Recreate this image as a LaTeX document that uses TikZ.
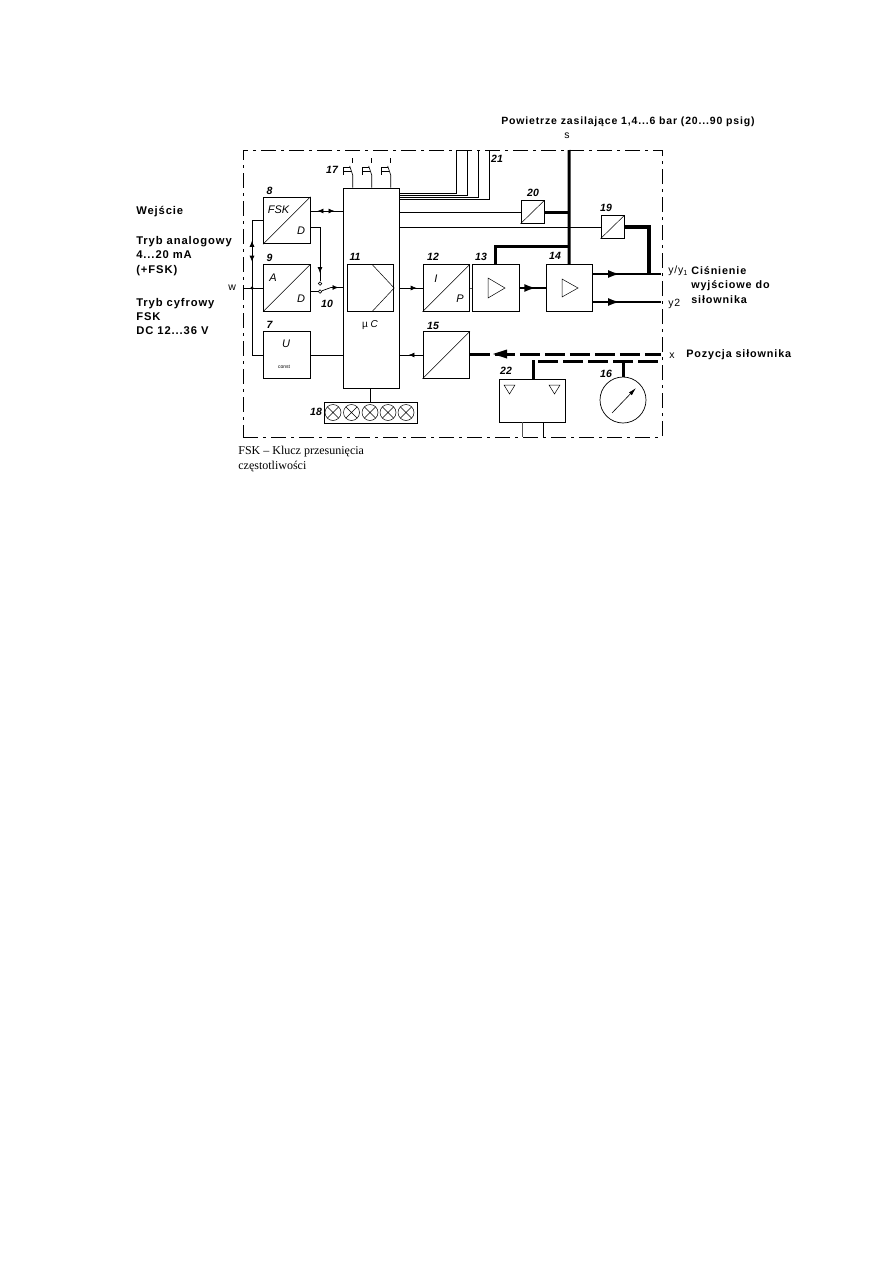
\documentclass[tikz,border=0pt]{standalone}
\usepackage{fontspec}
\setmainfont{Liberation Sans}
\newfontfamily\noteserif{Liberation Serif}
\newfontfamily\opisfont[LetterSpace=8]{Liberation Sans}
\usepackage{tikz}
\usetikzlibrary{arrows.meta,calc,decorations.markings}
\definecolor{LineGray}{HTML}{555555}
\tikzset{
  blok/.style={draw, line width=0.8pt, minimum width=46.5pt, minimum height=46.5pt, inner sep=0pt},
  sensbox/.style={draw, line width=0.8pt, minimum width=23pt, minimum height=22.5pt, inner sep=0pt},
  nr/.style={font=\fontsize{10.5}{10.5}\selectfont\bfseries\itshape, inner sep=0pt},
  sym/.style={font=\fontsize{11}{11}\selectfont\itshape, inner sep=0pt},
  opis/.style={font=\opisfont\fontsize{10.8}{14.2}\selectfont\bfseries, inner sep=0pt, anchor=west, align=left},
  opisleft/.style={opis, font=\opisfont\fontsize{11.2}{14.2}\selectfont\bfseries},
  znak/.style={font=\opisfont\fontsize{10.5}{10.5}\selectfont, inner sep=0pt, anchor=west},
  air/.style={line width=3pt},
  posline/.style={line width=3pt, dash pattern=on 20pt off 5pt},
  tipat/.style={postaction={decorate, decoration={markings,
    mark=at position #1 with {\arrow{Latex[length=6pt,width=5pt]}}}}},
  tiprev/.style={postaction={decorate, decoration={markings,
    mark=at position #1 with {\arrowreversed{Latex[length=6pt,width=5pt]}}}}},
  tipbig/.style={postaction={decorate, decoration={markings,
    mark=at position #1 with {\arrow{Latex[length=12pt,width=8pt]}}}}}
}
\begin{document}
\begin{tikzpicture}[x=1pt, y=-1pt, line width=0.7pt]
  \useasboundingbox (0,0) rectangle (893,1263);

  % frame of the positioner
  \node[draw, line width=0.7pt, dash pattern=on 15pt off 5pt on 3pt off 5pt,
        minimum width=419pt, minimum height=287pt, inner sep=0pt] (frame) at (452.5,293.5) {};

  % blocks
  \node[blok] (fsk) at (286.7,220.5) {};
  \node[blok] (ad) at (286.7,288) {};
  \node[blok] (zas) at (286.7,355) {};
  \node[draw, line width=0.8pt, minimum width=56.5pt, minimum height=200pt, inner sep=0pt] (uc) at (371.2,288) {};
  \node[blok] (proc) at (370.5,288) {};
  \node[blok] (ip) at (446.2,288) {};
  \node[blok] (pre) at (495.7,288) {};
  \node[blok] (amp) at (569.2,288) {};
  \node[blok] (adc) at (446.2,355) {};
  \node[sensbox] (ps) at (532.5,212) {};
  \node[sensbox] (py) at (612.5,227) {};
  \node[draw, line width=0.8pt, minimum width=66pt, minimum height=43pt, inner sep=0pt] (opt) at (532.5,400.5) {};
  \node[draw, circle, line width=0.7pt, minimum size=46pt, inner sep=0pt] (gauge) at (623,400) {};
  \node[draw, line width=0.8pt, minimum width=93pt, minimum height=21pt, inner sep=0pt] (lamps) at (370.5,412.5) {};

  % diagonals
  \foreach \b in {fsk,ad,ip,adc,ps,py}
    \draw[line width=0.5pt] (\b.south west) -- (\b.north east);
  \draw[line width=0.5pt] ($(proc.north)+(1.5,0)$) -- (proc.east) -- ($(proc.south)+(1.5,0)$);

  % signs inside the blocks
  \draw[line width=0.5pt] (488,278) -- (488,298) -- (505,288) -- cycle;
  \draw[line width=0.5pt] (562,279) -- (562,297) -- (578,288) -- cycle;
  \draw[line width=0.5pt] (504,385) -- (515,385) -- (509.5,394) -- cycle;
  \draw[line width=0.5pt] (549,385) -- (560,385) -- (554.5,394) -- cycle;
  \foreach \x in {333,351.5,370,388,406}{
    \draw[line width=0.5pt] (\x,412.5) circle (8);
    \draw[line width=0.5pt] (\x-5.6,406.9) -- (\x+5.6,418.1) (\x-5.6,418.1) -- (\x+5.6,406.9);
  }
  \draw[-{Latex[length=8pt,width=4pt]}, line width=0.6pt] (612,413) -- (636,388);

  % input side
  \coordinate (win) at (243,288);
  \coordinate (wdot) at (252,288);
  \fill (wdot) circle (1.6);
  \draw[line width=0.5pt] (win) -- (ad.west);
  \draw (fsk.west) -- (252,220.5) -- (wdot);
  \draw (zas.west) -- (252,355) -- (wdot);
  \draw[tiprev=0.30, tipat=0.61] (252,220.5) -- (wdot);

  % switch
  \node[draw, circle, fill=white, minimum size=3.5pt, inner sep=0pt] (swa) at (320,283.5) {};
  \node[draw, circle, fill=white, minimum size=3.5pt, inner sep=0pt] (swb) at (320,291.5) {};
  \coordinate (swc) at (331,287.5);
  \draw[tipat=0.87] ($(fsk.east)+(0,6.5)$) -- (320,227) -- (swa.north);
  \draw (ad.east |- swb) -- (swb);
  \draw (swb) -- (swc);
  \draw[tipat=0.65] (swc) -- (uc.west |- swc);

  % links to the controller
  \draw[tiprev=0.22, tipat=0.75] ($(fsk.east)+(0,-9.5)$) -- (uc.west |- 0,211);
  \draw (zas.east) -- (uc.west |- zas.east);
  \draw (uc.south -| lamps.north) -- (lamps.north);
  \draw[tipat=0.74] (uc.east |- ip.west) -- (ip.west);
  \draw[tipat=0.62] (adc.west) -- (uc.east |- adc.west);
  \draw (uc.east |- ps.west) -- (ps.west);
  \draw (uc.east |- py.west) -- (py.west);
  \draw[line width=0.5pt, LineGray] (ip.east) -- (pre.west);

  % cables on the top
  \foreach \x/\y in {456.7/193,467.5/195.5,478/197.5,489/199.5}
    \draw[line width=0.7pt] (uc.east |- 0,\y) -- (\x,\y) -- (\x,150);

  % buttons
  \foreach \x in {352.7,371.7,390.7}{
    \coordinate (bt) at (\x,175);
    \draw (uc.north -| bt) -- (bt) -- ++(-3,-9);
    \draw[line width=0.5pt] (\x,158) -- (\x,163);
    \draw[line width=0.6pt] (\x-2.5,167.5) -- (\x-9,167.5) -- (\x-9,174.5) (\x-9,171) -- (\x-1.5,171);
  }

  % supply air
  \coordinate (sin) at (569,150);
  \coordinate (sy) at (569,246);
  \draw[air] (sin) -- (amp.north);
  \draw[air] (sy) -- (pre.north |- sy) -- (pre.north);
  \draw[air] (ps.east) -- (ps.east -| sin);
  \draw[line width=4pt] (py.east) -- (649,227) -- (649,274);

  % outputs
  \coordinate (y1) at (661,274);
  \coordinate (y2) at (661,302);
  \draw[line width=2.2pt, tipbig=0.4] (amp.east |- y1) -- (y1);
  \draw[line width=2.2pt, tipbig=0.4] (amp.east |- y2) -- (y2);
  \draw[line width=2.5pt, tipbig=0.65] (pre.east) -- (amp.west);

  % position feedback
  \coordinate (xin) at (661,354);
  \coordinate (xb) at (661,361);
  \coordinate (xc) at (533,361);
  \coordinate (xd) at (623,361);
  \draw[posline] (adc.east |- xin) -- (xin);
  \fill (493,354) -- (507,349.5) -- (507,358.5) -- cycle;
  \draw[posline, dash phase=20pt] (xc) -- (xb);
  \draw[line width=3pt, line cap=rect] (xc) -- (opt.north -| xc);
  \draw[line width=3pt] (xd) -- (gauge.north);

  % connection of block 22 to the frame
  \coordinate (oa) at (522,437);
  \coordinate (ob) at (543,437);
  \draw[line width=0.6pt, LineGray] (opt.south -| oa) -- (oa);
  \draw[line width=0.6pt] (opt.south -| ob) -- (ob);

  % numbers
  \foreach \n/\x/\y in {8/269.5/191,9/269.5/258,7/269.5/325,10/327/304,11/355/257,12/433/257,
                        13/481/257,14/555/256,15/433/326,16/606/374,17/332/170,18/316/412,
                        19/606/208,20/533/193,21/497/159,22/506/371}
    \node[nr] (n\n) at (\x,\y) {\n};

  % letters in the blocks
  \node[sym] (tfsk) at (278.5,210) {FSK};
  \node[sym] (td) at (301,231) {D};
  \node[sym] (ta) at (273,278) {A};
  \node[sym] (tda) at (301,299) {D};
  \node[sym] (tu) at (286,344) {U};
  \node[font=\fontsize{5}{5}\selectfont, inner sep=0pt] (tc) at (284,367) {const};
  \node[font=\fontsize{10}{10}\selectfont, inner sep=0pt] (tuc) at (370,325) {µ \textit{C}};
  \node[sym] (ti) at (436,279) {I};
  \node[sym] (tp) at (460,299) {P};

  % captions
  \node[opisleft] (wej) at (136,212) {Wejście};
  \node[opisleft] (analog) at (136,256) {Tryb analogowy\\4...20 mA\\(+FSK)};
  \node[opisleft] (cyfr) at (136,316.5) {Tryb cyfrowy\\FSK\\DC 12...36 V};
  \node[znak] (w) at (228,288) {w};
  \node[opis, font=\opisfont\fontsize{10.5}{14}\selectfont\bfseries] (supply) at (501,122) {Powietrze zasilające 1,4...6 bar (20...90 psig)};
  \node[znak] (s) at (564,136) {s};
  \node[znak] (ty1) at (668,271) {y/y\textsubscript{1}};
  \node[znak] (ty2) at (668,304) {y2};
  \node[opis] (cis) at (691,285) {Ciśnienie\\wyjściowe do\\siłownika};
  \node[znak] (tx) at (669,356) {x};
  \node[opis] (poz) at (686,355) {Pozycja siłownika};
  \node[anchor=west, align=left, inner sep=0pt, font=\noteserif\fontsize{12}{15}\selectfont] (note) at (238,459.5)
    {FSK – Klucz przesunięcia\\częstotliwości};
\end{tikzpicture}
\end{document}
